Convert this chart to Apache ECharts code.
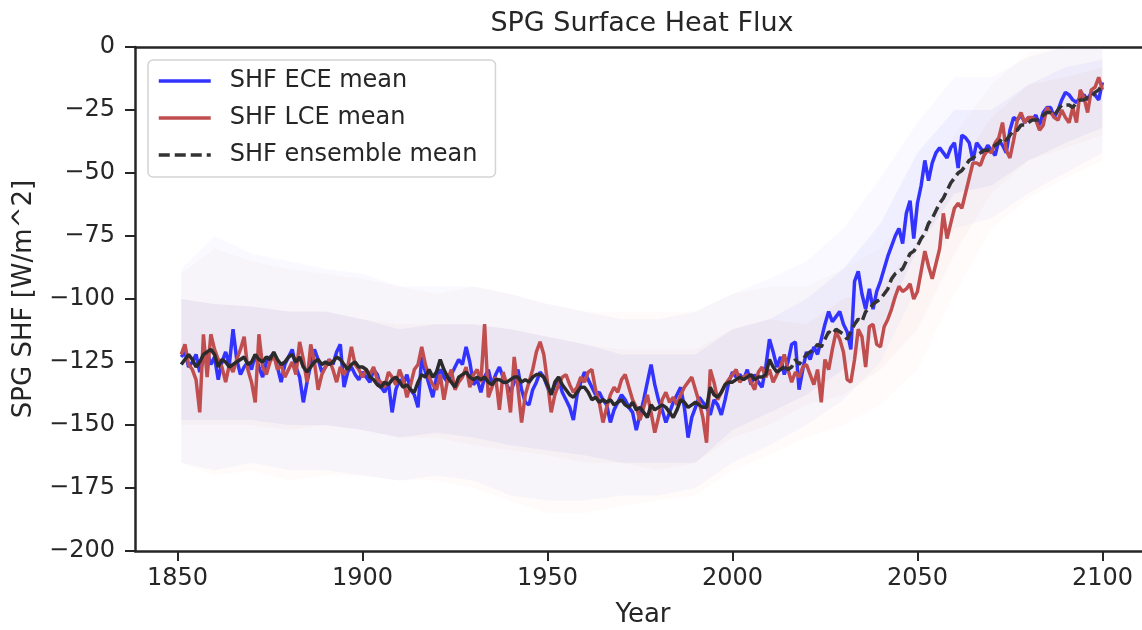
<!DOCTYPE html>
<html><head><meta charset="utf-8">
<script src="https://cdn.jsdelivr.net/npm/echarts@6/dist/echarts.min.js"></script>
<style>html,body{margin:0;padding:0;background:#fff}#c{width:1142px;height:630px}</style>
</head><body><div id="c"></div>
<script>
// ---------------- data ----------------
const startYear = 1851; // first year of the ECE / LCE means (1851-2100)
const eceMean = [
-123,-121,-127,-125,-122,-129,-124,-121,-126,-123,
-132,-125,-121,-126,-112,-124,-130,-127,-125,-128,
-122,-127,-131,-125,-123,-122,-127,-133,-126,-123,
-120,-127,-131,-141,-133,-126,-120,-124,-129,-127,
-124,-126,-121,-118,-135,-129,-127,-130,-132,-129,
-131,-133,-128,-130,-135,-137,-133,-145,-136,-132,
-134,-130,-136,-138,-143,-123,-129,-134,-139,-131,
-128,-131,-133,-130,-127,-124,-126,-119,-125,-134,
-132,-137,-131,-128,-134,-130,-127,-131,-134,-137,
-133,-128,-136,-141,-142,-136,-133,-129,-131,-135,
-138,-134,-132,-137,-140,-143,-148,-138,-133,-129,
-132,-135,-138,-137,-140,-142,-149,-144,-141,-138,
-140,-143,-145,-152,-146,-140,-133,-126,-134,-140,
-144,-149,-145,-141,-138,-135,-143,-155,-147,-143,
-139,-141,-143,-146,-140,-142,-146,-140,-133,-129,
-131,-130,-132,-128,-134,-130,-133,-135,-127,-116,
-121,-127,-123,-130,-125,-118,-117,-136,-128,-121,
-124,-119,-122,-116,-110,-105,-109,-107,-105,-110,
-113,-120,-93,-89,-98,-104,-96,-104,-97,-93,
-88,-83,-79,-75,-72,-78,-66,-61,-76,-62,
-55,-45,-53,-46,-42,-40,-42,-44,-40,-38,
-48,-35,-36,-38,-45,-38,-40,-42,-39,-41,
-43,-37,-39,-42,-33,-28,-29,-27,-30,-28,
-29,-27,-31,-26,-24,-24,-28,-25,-21,-18,
-19,-21,-22,-20,-19,-21,-18,-19,-21,-14
];
const lceMean = [
-122,-118,-126,-128,-132,-145,-114,-131,-114,-120,
-124,-127,-133,-126,-129,-124,-120,-115,-128,-133,
-141,-114,-127,-130,-125,-122,-128,-126,-131,-128,
-125,-130,-117,-124,-133,-118,-125,-136,-130,-127,
-124,-128,-133,-127,-130,-127,-119,-126,-128,-131,
-128,-130,-127,-132,-133,-135,-129,-131,-134,-128,
-132,-139,-134,-128,-126,-119,-126,-131,-134,-136,
-130,-140,-132,-128,-136,-133,-131,-127,-135,-130,
-128,-133,-110,-139,-135,-131,-144,-129,-134,-145,
-123,-135,-149,-138,-133,-128,-121,-117,-122,-133,
-145,-138,-134,-131,-130,-134,-137,-135,-131,-133,
-129,-128,-136,-141,-149,-143,-138,-135,-137,-132,
-130,-135,-140,-143,-148,-143,-138,-145,-153,-147,
-140,-137,-141,-139,-142,-138,-135,-133,-131,-136,
-141,-147,-157,-128,-133,-140,-137,-134,-132,-130,
-128,-133,-131,-130,-133,-136,-129,-127,-131,-128,
-133,-130,-127,-122,-128,-133,-129,-131,-127,-126,
-130,-134,-128,-141,-124,-128,-120,-113,-116,-121,
-132,-133,-124,-112,-115,-127,-111,-110,-118,-119,
-111,-108,-104,-99,-95,-97,-96,-94,-100,-97,
-89,-81,-87,-92,-86,-80,-66,-76,-70,-64,
-62,-64,-58,-52,-46,-46,-47,-43,-41,-42,
-38,-36,-30,-41,-44,-37,-29,-26,-30,-28,
-28,-29,-33,-31,-24,-26,-28,-29,-25,-28,
-30,-24,-30,-17,-20,-26,-17,-16,-12,-17
];
// ensemble mean: historical part (1851-2014, solid) and scenario part (2014-2100, dashed)
const ensHistStart = 1851;
const ensHist = [
-126,-124,-122,-124,-127,-125,-122,-121,-120,-122,
-127,-124,-125,-127,-126,-125,-124,-123,-126,-125,
-122,-124,-125,-123,-124,-121,-124,-126,-125,-123,
-122,-125,-123,-127,-129,-127,-125,-124,-126,-125,
-126,-125,-123,-124,-126,-128,-126,-125,-127,-127,
-128,-131,-132,-134,-135,-133,-134,-132,-131,-133,
-135,-134,-136,-137,-133,-130,-131,-128,-131,-129,
-124,-128,-131,-133,-135,-131,-130,-129,-131,-132,
-131,-132,-131,-133,-134,-132,-132,-133,-133,-132,
-131,-131,-133,-132,-133,-131,-130,-130,-131,-134,
-138,-133,-131,-134,-136,-138,-139,-137,-135,-135,
-137,-140,-139,-141,-140,-141,-140,-142,-141,-140,
-142,-143,-141,-144,-143,-145,-147,-142,-144,-143,
-142,-143,-145,-147,-144,-140,-141,-143,-142,-141,
-142,-143,-143,-135,-138,-139,-137,-134,-133,-133,
-132,-131,-132,-131,-130,-132,-131,-131,-130,-124,
-127,-129,-128,-127
];
const ensScenStart = 2014;
const ensScen = [
-127,
-128,-127,-124,-126,-124,-122,
-121,-120,-118,-119,-116,-113,-114,-112,-113,-114,
-116,-113,-110,-108,-109,-105,-104,-102,-101,-100,
-98,-96,-92,-90,-89,-88,-85,-82,-81,-79,
-76,-74,-70,-68,-65,-62,-60,-57,-54,-52,
-50,-49,-47,-45,-44,-43,-42,-41,-41,-40,
-39,-38,-36,-37,-35,-33,-33,-31,-31,-30,
-29,-29,-29,-27,-26,-26,-27,-25,-23,-23,
-23,-24,-22,-21,-21,-20,-20,-18,-17,-15
];
// spread of the individual members (faint haze), sampled by decade
const spreadYears = [1851,1860,1870,1880,1890,1900,1910,1920,1930,1940,1950,1960,1970,1980,1990,2000,2010,2020,2030,2040,2050,2060,2070,2080,2090,2100];
// dense core of the member spread
const eceCoreLow  = [-148,-148,-148,-150,-150,-152,-155,-153,-155,-158,-160,-162,-165,-165,-165,-152,-145,-138,-128,-112,-80,-58,-55,-45,-38,-32];
const eceCoreHigh = [-100,-102,-103,-105,-105,-108,-112,-110,-110,-112,-115,-118,-122,-122,-122,-112,-108,-100,-88,-70,-42,-25,-25,-15,-8,-5];
const lceCoreLow  = [-150,-150,-150,-152,-150,-152,-155,-155,-158,-160,-162,-165,-165,-168,-165,-155,-150,-142,-138,-128,-112,-82,-58,-45,-40,-35];
const lceCoreHigh = [-100,-102,-103,-105,-105,-108,-110,-110,-110,-112,-115,-118,-120,-120,-120,-112,-108,-110,-100,-95,-78,-50,-28,-15,-12,-8];
// outer reach of the member spikes
const eceOutLow   = [-165,-168,-165,-168,-168,-170,-172,-170,-172,-178,-180,-180,-178,-178,-175,-165,-158,-150,-140,-125,-95,-72,-68,-58,-50,-42];
const eceOutHigh  = [-88,-75,-82,-85,-88,-90,-95,-95,-95,-98,-102,-105,-108,-108,-105,-98,-92,-85,-72,-52,-30,-12,-12,-4,0,0];
const lceOutLow   = [-165,-170,-168,-172,-170,-170,-172,-172,-175,-180,-185,-185,-182,-180,-178,-168,-162,-155,-150,-142,-128,-98,-72,-60,-52,-45];
const lceOutHigh  = [-90,-80,-85,-88,-90,-92,-95,-98,-95,-98,-102,-105,-105,-105,-105,-98,-95,-95,-88,-80,-62,-35,-15,-2,0,0];
const xTicks = [1850,1900,1950,2000,2050,2100];
const legendNames = ['SHF ECE mean','SHF LCE mean','SHF ensemble mean'];

// ---------------- chart ----------------
const pairs = (start, arr) => arr.map((v, i) => [start + i, v]);
const ink = '#262626';
const font = 'DejaVu Sans';
const minus = v => String(v).replace('-', '\u2212');

const chart = echarts.init(document.getElementById('c'), null, {renderer: 'canvas'});

// envelope polygon drawn through the axis scales
const band = (name, lo, hi, color) => ({
  name: name, type: 'custom', z: 1, silent: true,
  data: spreadYears.map((y, i) => [y, lo[i], hi[i]]),
  encode: {x: 0, y: [1, 2]},
  renderItem: (params, api) => {
    if (params.dataIndex !== 0) return null;
    const top = spreadYears.map((y, i) => api.coord([y, hi[i]]));
    const bot = spreadYears.map((y, i) => api.coord([y, lo[i]])).reverse();
    return {type: 'polygon', shape: {points: top.concat(bot)}, style: {fill: color}};
  }
});

chart.setOption({
  animation: false,
  backgroundColor: '#fff',
  textStyle: {fontFamily: font},
  grid: {left: 135, right: 0, top: 47, bottom: 79, containLabel: false},
  xAxis: [{
    type: 'value', min: 1838.5, max: 2110.7,
    axisLine: {show: true, onZero: false, lineStyle: {color: ink, width: 2.5}},
    axisTick: {show: true, length: 10, lineStyle: {color: ink, width: 2}, customValues: xTicks},
    axisLabel: {color: ink, fontSize: 24, fontFamily: font, margin: 16, customValues: xTicks,
                formatter: v => String(v)},
    splitLine: {show: false}
  }, {
    type: 'value', position: 'top', min: 1838.5, max: 2110.7,
    axisLine: {show: true, onZero: false, lineStyle: {color: ink, width: 2.5}},
    axisTick: {show: false}, axisLabel: {show: false}, splitLine: {show: false}
  }],
  yAxis: {
    type: 'value', min: -200, max: 0, interval: 25,
    axisLine: {show: true, onZero: false, lineStyle: {color: ink, width: 2.5}},
    axisTick: {show: true, length: 10, lineStyle: {color: ink, width: 2}},
    axisLabel: {color: ink, fontSize: 24, fontFamily: font, margin: 20, formatter: minus},
    splitLine: {show: false}
  },
  legend: {
    data: legendNames, orient: 'vertical', left: 148, top: 60,
    padding: [8, 18, 9, 9], itemWidth: 52, itemHeight: 14, itemGap: 11,
    backgroundColor: 'rgba(255,255,255,0.85)', borderColor: '#d4d4d4', borderWidth: 1.5, borderRadius: 5,
    textStyle: {color: ink, fontSize: 24, fontFamily: font, lineHeight: 26, padding: [0, 0, 0, 14]},
    lineStyle: {width: 3.5},
    itemStyle: {opacity: 0}
  },
  graphic: [
    {type: 'text', x: 642, y: 24, style: {text: 'SPG Surface Heat Flux', fill: ink, font: '27px "DejaVu Sans"', textAlign: 'center', textVerticalAlign: 'middle'}},
    {type: 'text', x: 643, y: 615, style: {text: 'Year', fill: ink, font: '26px "DejaVu Sans"', textAlign: 'center', textVerticalAlign: 'middle'}},
    {type: 'text', x: 24, y: 299, rotation: Math.PI / 2, style: {text: 'SPG SHF [W/m^2]', fill: ink, font: '26px "DejaVu Sans"', textAlign: 'center', textVerticalAlign: 'middle'}}
  ],
  series: [
    band('eceOut', eceOutLow, eceOutHigh, 'rgba(110,110,255,0.045)'),
    band('lceOut', lceOutLow, lceOutHigh, 'rgba(225,140,120,0.035)'),
    band('eceCore', eceCoreLow, eceCoreHigh, 'rgba(110,110,255,0.07)'),
    band('lceCore', lceCoreLow, lceCoreHigh, 'rgba(225,140,120,0.05)'),
    {name: 'SHF ECE mean', type: 'line', data: pairs(startYear, eceMean), symbol: 'none', z: 3,
     lineStyle: {color: '#3333ff', width: 3.5}, itemStyle: {color: '#3333ff'}},
    {name: 'SHF LCE mean', type: 'line', data: pairs(startYear, lceMean), symbol: 'none', z: 4,
     lineStyle: {color: '#c14e4e', width: 3.5}, itemStyle: {color: '#c14e4e'}},
    {name: 'ens hist', type: 'line', data: pairs(ensHistStart, ensHist), symbol: 'none', z: 5,
     lineStyle: {color: '#2b2b2b', width: 3.5}},
    {name: 'SHF ensemble mean', type: 'line', data: pairs(ensScenStart, ensScen), symbol: 'none', z: 5,
     lineStyle: {color: '#333333', width: 3.5, type: [11, 5]}, itemStyle: {color: '#333333'}}
  ]
});
</script>
</body></html>
